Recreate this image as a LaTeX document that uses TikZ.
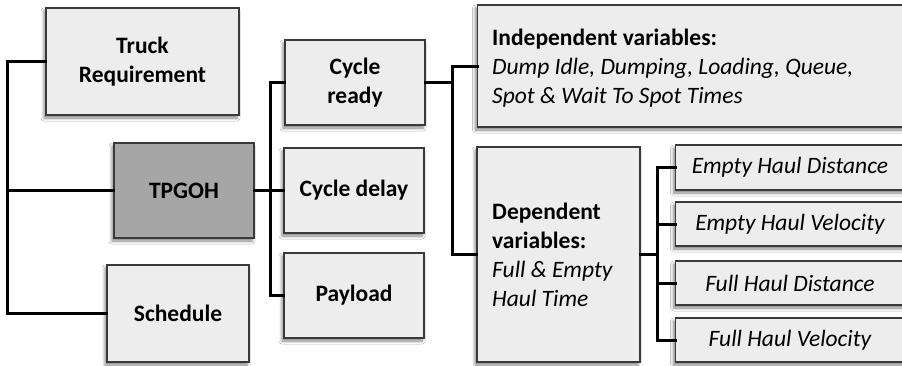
\documentclass[tikz,border=0pt]{standalone}
\usepackage{fontspec}
\setmainfont{Carlito}
\usetikzlibrary{shadows.blur}
\definecolor{boxfill}{HTML}{EDEDED}
\definecolor{darkfill}{HTML}{A6A6A6}
\definecolor{boxline}{HTML}{3A3A3A}
\newcommand{\fsz}{\fontsize{23.5}{29}\selectfont}
\begin{document}
\begin{tikzpicture}[x=1pt,y=-1pt,
  box/.style={draw=boxline, line width=1.2pt, fill=boxfill, inner sep=0pt,
    font=\fsz\bfseries, align=center,
    blur shadow={shadow xshift=-2pt, shadow yshift=-3pt, shadow blur steps=6, shadow opacity=50, shadow blur radius=3pt}},
  ibox/.style={box, font=\fsz\itshape},
  conn/.style={line width=3pt, draw=black, line cap=rect}]
\useasboundingbox (0,0) rectangle (902,365);
\fill[white] (0,0) rectangle (902,365);
% left column
\node[box, minimum width=193pt, minimum height=107pt] (truck) at (142.5,61.5) {Truck\\Requirement};
\node[box, fill=darkfill, minimum width=140pt, minimum height=95pt] (tpgoh) at (184,190.5) {TPGOH};
\node[box, minimum width=142pt, minimum height=97pt] (sched) at (178,313.5) {Schedule};
% middle column
\node[box, minimum width=140pt, minimum height=85pt] (cready) at (355,82.5) {Cycle\\ready};
\node[box, minimum width=140pt, minimum height=85pt] (cdelay) at (354,190.5) {Cycle delay};
\node[box, minimum width=140pt, minimum height=85pt] (payload) at (354,295.5) {Payload};
% right part
\node[box, minimum width=430pt, minimum height=122pt, anchor=west] (indep) at (477,66) {};
\node[anchor=west, align=left, inner sep=0pt, font=\fsz] (indeptext) at (492,68.5) {\textbf{Independent variables:}\\\textit{Dump Idle, Dumping, Loading, Queue,}\\\textit{Spot \& Wait To Spot Times}};
\node[box, minimum width=163pt, minimum height=215pt] (dep) at (558.5,254.5) {};
\node[anchor=west, align=left, inner sep=0pt, font=\fsz] (deptext) at (492,255) {\textbf{Dependent}\\\textbf{variables:}\\\textit{Full \& Empty}\\\textit{Haul Time}};
\node[ibox, minimum width=232pt, minimum height=45pt, anchor=west] (ehd) at (675,167.5) {};
\node[font=\fsz\itshape, inner sep=0pt] (ehdt) at (790,167) {Empty Haul Distance};
\node[ibox, minimum width=232pt, minimum height=44pt, anchor=west] (ehv) at (675,224) {};
\node[font=\fsz\itshape, inner sep=0pt] (ehvt) at (790,224) {Empty Haul Velocity};
\node[ibox, minimum width=232pt, minimum height=44pt, anchor=west] (fhd) at (675,283) {};
\node[font=\fsz\itshape, inner sep=0pt] (fhdt) at (790,283) {Full Haul Distance};
\node[ibox, minimum width=232pt, minimum height=44pt, anchor=west] (fhv) at (675,340) {};
\node[font=\fsz\itshape, inner sep=0pt] (fhvt) at (790,340) {Full Haul Velocity};
% connectors
\coordinate (lb) at (7,0);
\draw[conn] (truck.west) -| (lb |- sched.west) -- (sched.west);
\draw[conn] (tpgoh.west) -- (lb |- tpgoh.west);
\coordinate (mb) at (270,0);
\draw[conn] (cready.west) -| (mb |- payload.west) -- (payload.west);
\draw[conn] (tpgoh.east) -- (cdelay.west);
\coordinate (rb) at (452,0);
\draw[conn] (cready.east) -- (rb |- cready.east);
\draw[conn] (indep.west) -| (rb |- dep.west) -- (dep.west);
\coordinate (qb) at (657,0);
\draw[conn] (dep.east) -- (qb |- dep.east);
\draw[conn] (ehd.west) -| (qb |- fhv.west) -- (fhv.west);
\draw[conn] (ehv.west) -- (qb |- ehv.west);
\draw[conn] (fhd.west) -- (qb |- fhd.west);
\end{tikzpicture}
\end{document}
